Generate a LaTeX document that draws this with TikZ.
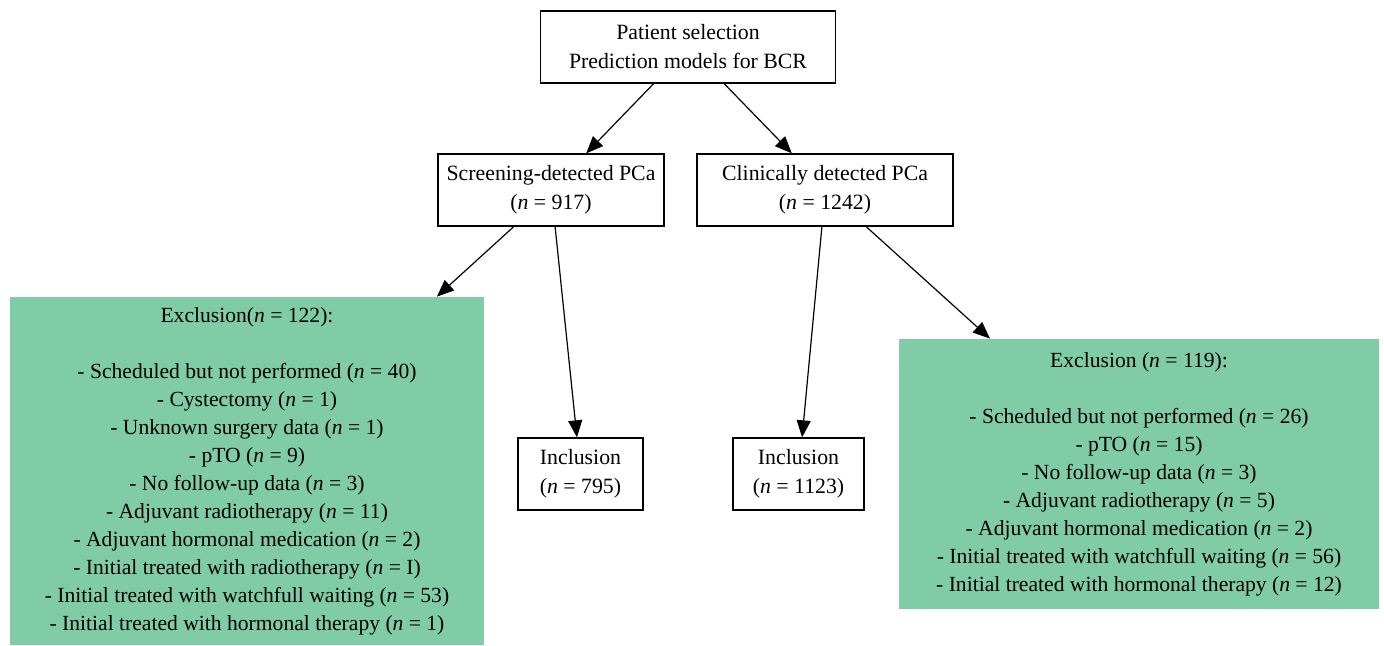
\documentclass[tikz,border=0pt]{standalone}
\usepackage{fontspec}
\setmainfont{Liberation Serif}
\usetikzlibrary{arrows.meta,calc}
\definecolor{exgreen}{RGB}{127,204,166}
\begin{document}
\begin{tikzpicture}[x=0.5pt,y=-0.5pt,
  box/.style={draw,line width=0.65pt,inner sep=0pt,align=center,font=\fontsize{10.9}{14.5}\selectfont},
  exbox/.style={fill=exgreen,inner sep=0pt,align=center,font=\fontsize{10.8}{14}\selectfont},
  arr/.style={line width=0.6pt,-{Triangle[length=8.5pt,width=7pt]}}]
\useasboundingbox (0,0) rectangle (1384,646);
\node[box,minimum width=147.5pt,minimum height=36pt] (top) at (688,47) {Patient selection\\Prediction models for BCR};
\node[box,minimum width=113pt,minimum height=36pt] (scr) at (551,190) {Screening-detected PCa\\(\textit{n} = 917)};
\node[box,minimum width=128pt,minimum height=36pt] (cli) at (825,190) {Clinically detected PCa\\(\textit{n} = 1242)};
\node[box,minimum width=62.5pt,minimum height=36pt] (inL) at (580.5,474) {Inclusion\\(\textit{n} = 795)};
\node[box,minimum width=65.5pt,minimum height=36pt] (inR) at (798.5,474) {Inclusion\\(\textit{n} = 1123)};
\node[exbox,minimum width=237pt,minimum height=174pt] (exL) at (247,471) {Exclusion(\textit{n} = 122):\\[14pt]
- Scheduled but not performed (\textit{n} = 40)\\
- Cystectomy (\textit{n} = 1)\\
- Unknown surgery data (\textit{n} = 1)\\
- pTO (\textit{n} = 9)\\
- No follow-up data (\textit{n} = 3)\\
- Adjuvant radiotherapy (\textit{n} = 11)\\
- Adjuvant hormonal medication (\textit{n} = 2)\\
- Initial treated with radiotherapy (\textit{n} = I)\\
- Initial treated with watchfull waiting (\textit{n} = 53)\\
- Initial treated with hormonal therapy (\textit{n} = 1)};
\node[exbox,minimum width=240pt,minimum height=135pt] (exR) at (1139,474) {Exclusion (\textit{n} = 119):\\[14pt]
- Scheduled but not performed (\textit{n} = 26)\\
- pTO (\textit{n} = 15)\\
- No follow-up data (\textit{n} = 3)\\
- Adjuvant radiotherapy (\textit{n} = 5)\\
- Adjuvant hormonal medication (\textit{n} = 2)\\
- Initial treated with watchfull waiting (\textit{n} = 56)\\
- Initial treated with hormonal therapy (\textit{n} = 12)};
\draw[arr] ($(top.south west)!0.384!(top.south east)$) -- ($(scr.north west)!0.655!(scr.north east)$);
\draw[arr] ($(top.south west)!0.622!(top.south east)$) -- ($(cli.north west)!0.371!(cli.north east)$);
\draw[arr] ($(scr.south west)!0.336!(scr.south east)$) -- ($(exL.north west)!0.90!(exL.north east)$);
\draw[arr] ($(scr.south west)!0.518!(scr.south east)$) -- ($(inL.north west)!0.472!(inL.north east)$);
\draw[arr] ($(cli.south west)!0.488!(cli.south east)$) -- ($(inR.north west)!0.527!(inR.north east)$);
\draw[arr] ($(cli.south west)!0.66!(cli.south east)$) -- ($(exR.north west)!0.19!(exR.north east)$);
\end{tikzpicture}
\end{document}
